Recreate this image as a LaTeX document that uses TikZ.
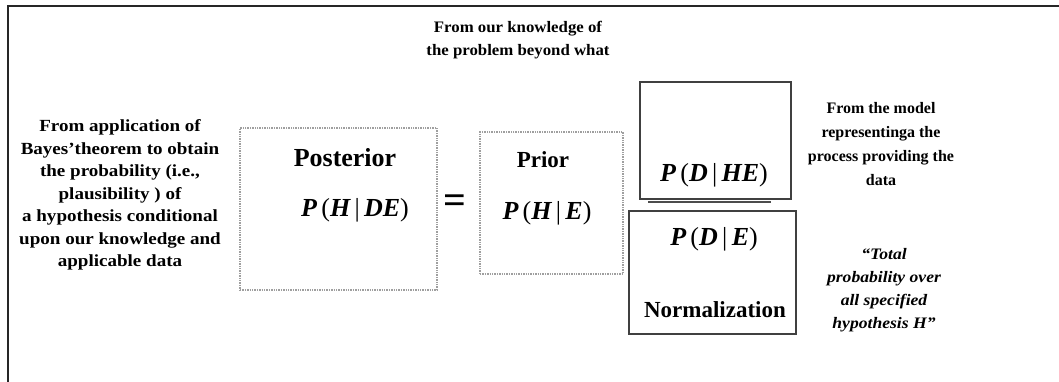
\documentclass[tikz,border=0pt]{standalone}
\usepackage{fontspec}
\setmainfont{Liberation Serif}
\newcommand{\pv}[1]{{\bfseries\itshape #1}}
\tikzset{
  dotbox/.style={draw=gray!75, densely dotted, line width=1.4pt, inner sep=0pt},
  solidbox/.style={draw=black!75, line width=1.3pt, inner sep=0pt},
  note/.style={align=center, font=\bfseries\fontsize{16}{23}\selectfont},
  inote/.style={align=center, font=\bfseries\itshape\fontsize{16}{23}\selectfont\addfontfeatures{FakeStretch=1.1}},
  title/.style={font=\bfseries\fontsize{25}{30}\selectfont},
  prob/.style={font=\fontsize{26}{30}\selectfont}
}
\begin{document}
\begin{tikzpicture}[x=1pt,y=-1pt]
        \useasboundingbox[fill=white] (0,0) rectangle (1059,381);
        %outer frame, runs off the page on the right and bottom
        \draw[black!85, line width=1.1pt] (8,390) -- (8,6) -- (1070,6);

        %the boxes of Bayes' theorem
        \node[dotbox, minimum width=197, minimum height=162] (post) at (338.5,209) {};
        \node[dotbox, minimum width=143, minimum height=142] (prior) at (551.5,203) {};
        \node[solidbox, minimum width=151, minimum height=117] (like) at (715.5,140.5) {};
        \node[solidbox, minimum width=167, minimum height=123] (norm) at (712.5,272.5) {};

        %fraction bar
        \draw[black!70, line width=1.6pt] (648,202) -- (771,202);

        \node[title, font=\bfseries\fontsize{26}{30}\selectfont] (posttitle) at (345,158) {Posterior};
        \node[prob] (postprob) at (355,210) {\pv{P}\,(\pv{H}\,|\,\pv{DE})};
        \node[font=\bfseries\fontsize{40}{40}\selectfont] (eq) at (455,204) {=};
        \node[title, font=\bfseries\fontsize{23}{28}\selectfont] (priortitle) at (543,160) {Prior};
        \node[prob] (priorprob) at (547,213) {\pv{P}\,(\pv{H}\,|\,\pv{E})};
        \node[prob] (likeprob) at (714,175) {\pv{P}\,(\pv{D}\,|\,\pv{HE})};
        \node[prob] (normprob) at (714,239) {\pv{P}\,(\pv{D}\,|\,\pv{E})};
        \node[title, font=\bfseries\fontsize{23}{28}\selectfont] (normtitle) at (715,310) {Normalization};

        %notes
        \node[note, font=\bfseries\fontsize{17}{22.5}\selectfont\addfontfeatures{FakeStretch=1.12}] (leftnote) at (120,195) {From application of\\Bayes'theorem to obtain\\the probability (i.e.,\\plausibility~) of\\a hypothesis conditional\\upon our knowledge and\\applicable data};
        \node[note, font=\bfseries\fontsize{16}{23}\selectfont\addfontfeatures{FakeStretch=1.05}] (topnote) at (518,40) {From our knowledge of\\the problem beyond what};
        \node[note, font=\bfseries\fontsize{16}{24}\selectfont] (modelnote) at (881,144) {From the model\\representinga the\\process providing the\\data};
        \node[inote] (totalnote) at (884,290) {“Total\\probability over\\all specified\\hypothesis \textit{H}”};
\end{tikzpicture}
\end{document}
